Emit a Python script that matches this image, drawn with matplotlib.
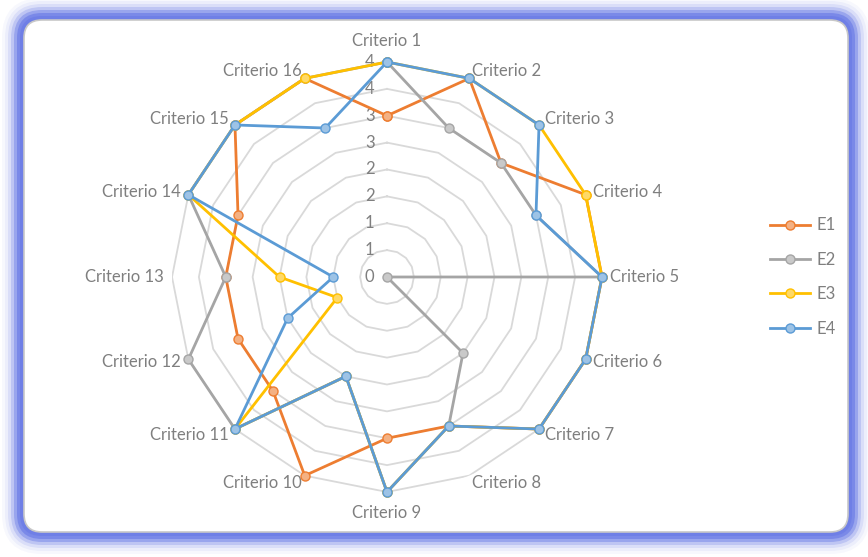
import numpy as np
import matplotlib
matplotlib.use("Agg")
import matplotlib.pyplot as plt
from matplotlib.patches import FancyBboxPatch

plt.rcParams['font.family'] = ['Lato', 'DejaVu Sans']

criterios = ["Criterio %d" % i for i in range(1, 17)]
e1 = [3, 4, 3, 4, 4, 4, 4, 3, 3, 4, 3, 3, 3, 3, 4, 4]
e2 = [4, 3, 3, 3, 4, 0, 2, 3, 4, 2, 4, 4, 3, 4, 4, 4]
e3 = [4, 4, 4, 4, 4, 4, 4, 3, 4, 2, 4, 1, 2, 4, 4, 4]
e4 = [4, 4, 4, 3, 4, 4, 4, 3, 4, 2, 4, 2, 1, 4, 4, 3]
series_names = ["E1", "E2", "E3", "E4"]
ring_values = [0, 0.5, 1, 1.5, 2, 2.5, 3, 3.5, 4]
ring_labels = ["0", "1", "1", "2", "2", "3", "3", "4", "4"]

colors = ["#ED7D31", "#A5A5A5", "#FFC000", "#5B9BD5"]
fills = ["#F4B183", "#C9C9C9", "#FFD966", "#9DC3E6"]
text_color = "#7F7F7F"

W, H = 868, 557
fig = plt.figure(figsize=(W / 100, H / 100), dpi=100)
fig.patch.set_facecolor("white")

# blue glowing frame
bg = fig.add_axes([0, 0, 1, 1])
bg.set_xlim(0, W)
bg.set_ylim(H, 0)
bg.axis("off")
for pad, alpha in [(22, 0.05), (19, 0.08), (16, 0.14), (13, 0.25), (10, 0.45), (7, 0.7), (4, 0.9)]:
    bg.add_patch(FancyBboxPatch((24 - pad, 20 - pad), 824 + 2 * pad, 512 + 2 * pad,
                                boxstyle="round,pad=0,rounding_size=%d" % (18 + pad),
                                fc="#6E7EE6", ec="none", alpha=alpha))
bg.add_patch(FancyBboxPatch((24, 20), 824, 512, boxstyle="round,pad=0,rounding_size=18",
                            fc="white", ec="#C8C8C8", lw=1.2))

cx, cy, R = 387, 277, 215
ax = fig.add_axes([(cx - R) / W, (H - cy - R) / H, 2 * R / W, 2 * R / H], polar=True)
ax.set_facecolor("none")
ax.set_theta_zero_location("N")
ax.set_theta_direction(-1)
ax.set_ylim(0, 4)
ax.grid(False)
ax.spines["polar"].set_visible(False)
ax.set_xticks([])
ax.set_yticks([])

n = len(criterios)
angles = np.arange(n) * 2 * np.pi / n
closed = np.append(angles, angles[0])

for r in ring_values[1:]:
    ax.plot(closed, [r] * (n + 1), color="#D9D9D9", lw=1.3, zorder=1)

for r, lab in zip(ring_values, ring_labels):
    ax.annotate(lab, xy=(0, r), xytext=(-9, 0), textcoords="offset points",
                ha="right", va="center", fontsize=12, color=text_color)

# category labels around the outside
for ang, name in zip(angles, criterios):
    s, c = np.sin(ang), np.cos(ang)
    ha = "center" if abs(s) < 0.2 else ("left" if s > 0 else "right")
    if abs(s) < 0.2:
        va = "bottom" if c > 0 else "top"
        off = 9
    else:
        va = "center"
        off = 6
    ax.annotate(name, xy=(ang, 4), xytext=(off * s, off * c), textcoords="offset points",
                ha=ha, va=va, fontsize=12, color=text_color, annotation_clip=False)

for i, vals in enumerate([e1, e2, e3, e4]):
    v = vals + vals[:1]
    ax.plot(closed, v, color=colors[i], lw=2, marker="o", markersize=6.5,
            markerfacecolor=fills[i], markeredgecolor=colors[i], markeredgewidth=1,
            label=series_names[i], zorder=3 + i, clip_on=False)

fig.legend(loc="center left", bbox_to_anchor=(755 / W, 1 - 277 / H), frameon=False,
           fontsize=12, labelcolor=text_color, handlelength=2.4, handletextpad=0.4,
           labelspacing=1.1)

fig.savefig("out.png", dpi=100, facecolor="white")
